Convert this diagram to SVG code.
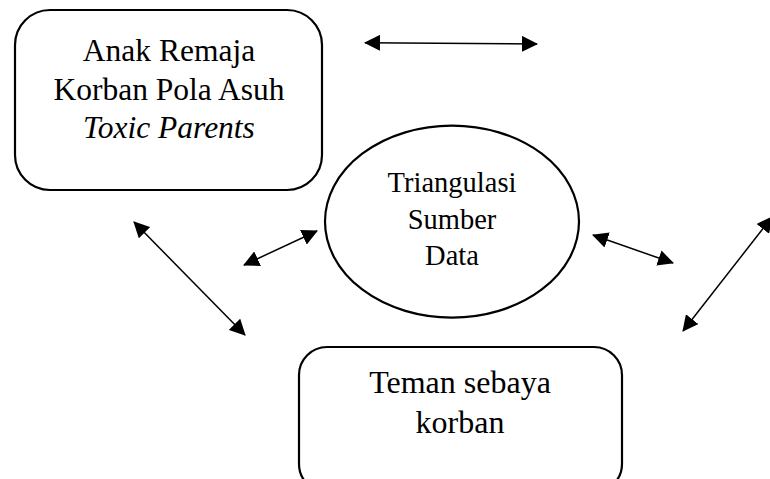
<svg xmlns="http://www.w3.org/2000/svg" width="770" height="479" viewBox="0 0 770 479">
<style>
.box{fill:#fff;stroke:#000;stroke-width:2.2}
.t{font-family:"Liberation Serif","Times New Roman",serif;fill:#000;text-anchor:middle}
.c{stroke:#000;stroke-width:1.5;fill:none;marker-start:url(#ah);marker-end:url(#ah)}
</style>
<defs>
<marker id="ah" viewBox="0 0 16 16" refX="15" refY="8" markerWidth="16" markerHeight="16" markerUnits="userSpaceOnUse" orient="auto-start-reverse">
<path d="M0,0 L16,8 L0,16 Z" fill="#000"/>
</marker>
</defs>
<rect width="770" height="479" fill="#fff"/>
<g id="anak-remaja">
<rect class="box" x="15" y="10" width="307" height="180" rx="35" ry="35"/>
<text class="t" font-size="31.5" x="169" y="61">Anak Remaja</text>
<text class="t" font-size="31.5" x="169" y="100">Korban Pola Asuh</text>
<text class="t" font-size="31.5" x="169" y="138" font-style="italic">Toxic Parents</text>
</g>
<g id="triangulasi">
<ellipse class="box" cx="452" cy="221.6" rx="127" ry="96"/>
<text class="t" font-size="28.5" x="452" y="192">Triangulasi</text>
<text class="t" font-size="28.5" x="452" y="229">Sumber</text>
<text class="t" font-size="28.5" x="452" y="265">Data</text>
</g>
<g id="teman-sebaya">
<rect class="box" x="299" y="347" width="323" height="145" rx="28" ry="28"/>
<text class="t" font-size="32" x="460" y="393">Teman sebaya</text>
<text class="t" font-size="32" x="460" y="433">korban</text>
</g>
<g id="connectors">
<line class="c" x1="365" y1="42.7" x2="537" y2="44"/>
<line class="c" x1="244" y1="265" x2="317" y2="231"/>
<line class="c" x1="593" y1="235" x2="673" y2="263"/>
<line class="c" x1="134" y1="222" x2="245" y2="335"/>
<line class="c" x1="772" y1="217" x2="683" y2="331"/>
</g>
</svg>
